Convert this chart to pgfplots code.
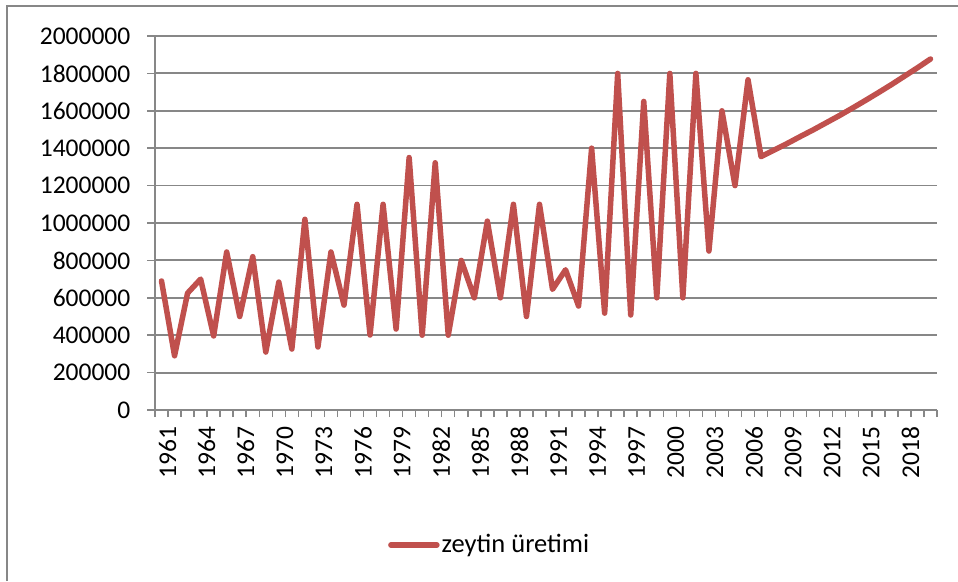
\documentclass[border=0pt]{standalone}
\usepackage{pgfplots}
\pgfplotsset{compat=1.18}
\usepackage{fontspec}
\setmainfont{Carlito}
\definecolor{excelred}{HTML}{C0504D}
\definecolor{gridgray}{HTML}{878787}
\begin{document}
\fontsize{25.5}{30}\selectfont
\begin{tikzpicture}[x=1pt,y=1pt]
\useasboundingbox[fill=white] (0,0) rectangle (958,581);
\draw[gridgray,line width=2pt] (7,0) -- (7,575) -- (958,575);
\begin{axis}[
  at={(155pt,171pt)}, anchor=origin,
  scale only axis, width=782pt, height=374pt,
  xmin=1960.5, xmax=2020.5, ymin=0, ymax=2000000,
  axis lines=left, axis line style={gridgray,line width=1.5pt,-},
  ytick={0,200000,...,2000000},
  ymajorgrids, grid style={gridgray,line width=1.8pt},
  xtick={1961,1964,...,2018},
  minor xtick={1960.5,1961.5,...,2020.5},
  major x tick style={draw=none},
  minor tick length=7pt, major tick length=8pt,
  tick align=outside, tick style={gridgray,line width=1.5pt},
  xticklabel style={rotate=90, anchor=east, yshift=-6pt},
  yticklabel style={anchor=east, xshift=-8pt},
  scaled y ticks=false,
  /pgf/number format/.cd, fixed, 1000 sep={}, assume math mode=true,
  /pgfplots/.cd,
  clip=false,
  legend style={at={(0.428,-0.361)}, anchor=center, draw=none, fill=none, font=\fontsize{26.5}{30}\selectfont},
  legend image code/.code={\draw[#1] (0pt,0pt) -- (46pt,0pt);},
]
\addplot[excelred, line width=5.5pt, line join=round, line cap=round] table[x=year,y=val] {
year val
1961 690000
1962 290000
1963 625000
1964 700000
1965 396000
1966 845000
1967 500000
1968 820000
1969 310000
1970 684000
1971 326000
1972 1020000
1973 337000
1974 845000
1975 561000
1976 1100000
1977 401000
1978 1100000
1979 433000
1980 1350000
1981 400000
1982 1322000
1983 400000
1984 800000
1985 600000
1986 1010000
1987 600000
1988 1100000
1989 500000
1990 1100000
1991 645000
1992 750000
1993 556000
1994 1400000
1995 518000
1996 1800000
1997 508000
1998 1650000
1999 600000
2000 1800000
2001 600000
2002 1800000
2003 850000
2004 1600000
2005 1200000
2006 1766000
2007 1355000
2008 1390000
2009 1425000
2010 1462000
2011 1498000
2012 1536000
2013 1574000
2014 1614000
2015 1655000
2016 1697000
2017 1740000
2018 1785000
2019 1830000
2020 1877000
};
\addlegendentry{zeytin üretimi}
\end{axis}
\end{tikzpicture}
\end{document}
